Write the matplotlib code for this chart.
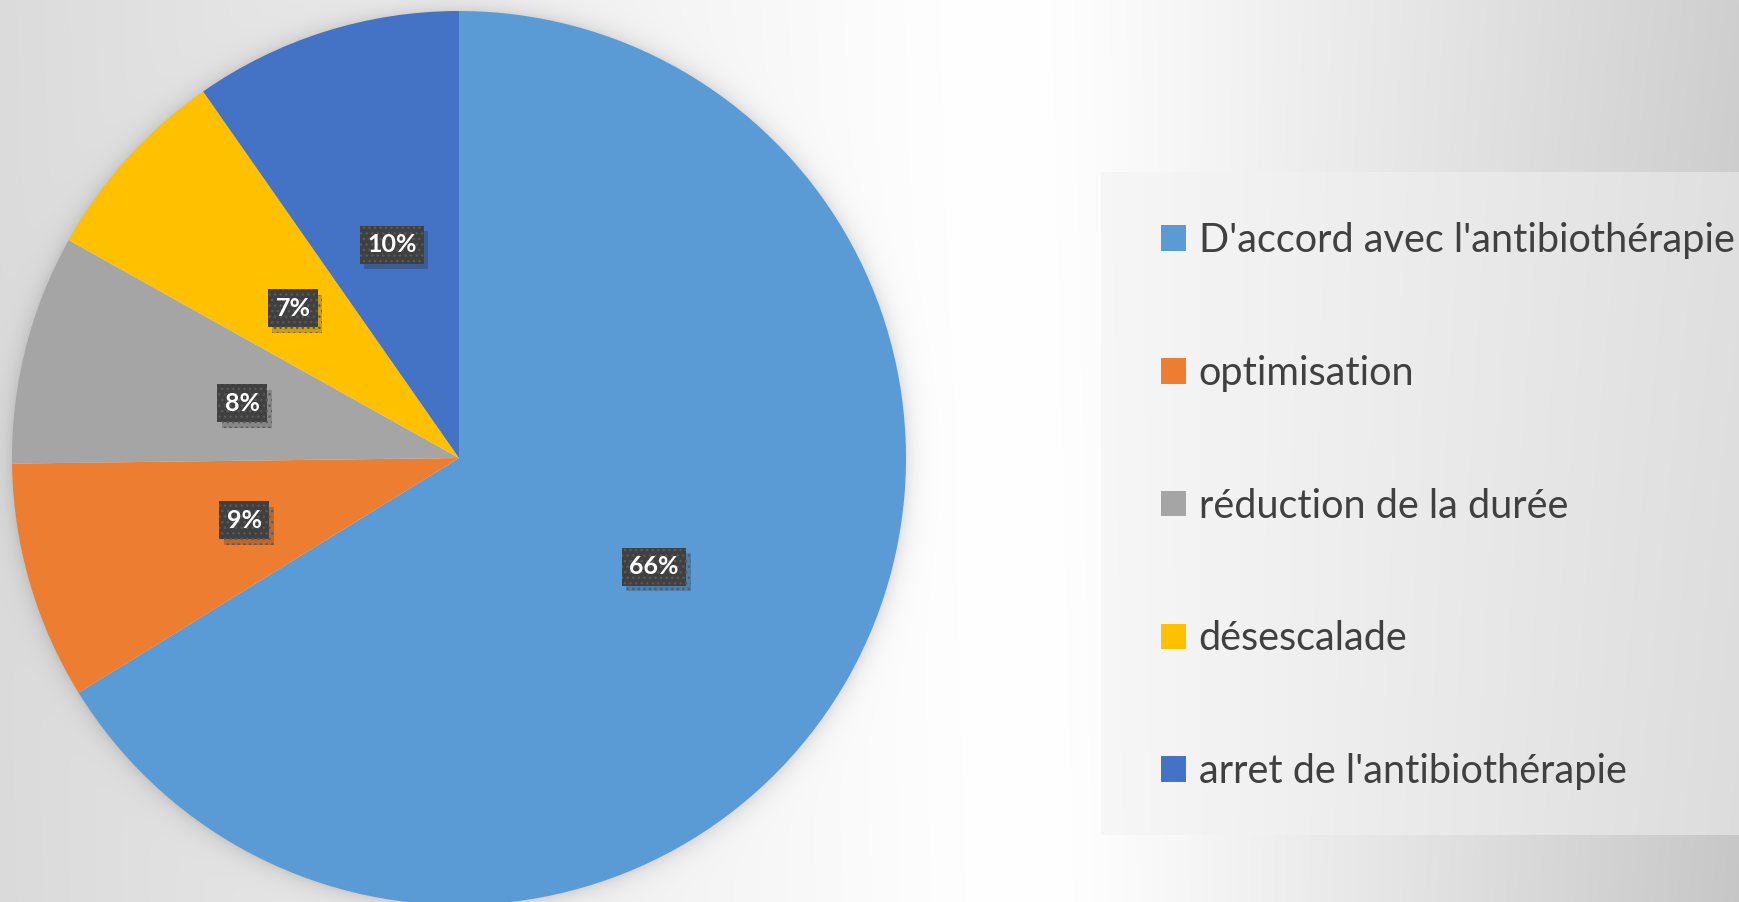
import numpy as np
import matplotlib
matplotlib.use('Agg')
import matplotlib.pyplot as plt
import matplotlib.patheffects as pe
from matplotlib.patches import Rectangle

categories = ["D'accord avec l'antibiothérapie", 'optimisation',
              'réduction de la durée', 'désescalade', "arret de l'antibiothérapie"]
values = [66.2, 8.6, 8.3, 7.2, 9.7]
pct_labels = ['66%', '9%', '8%', '7%', '10%']
colors = ['#5B9BD5', '#ED7D31', '#A5A5A5', '#FFC000', '#4472C4']

W, H = 1739, 902
DPI = 100
plt.rcParams['font.family'] = ['Lato', 'DejaVu Sans']

fig = plt.figure(figsize=(W / DPI, H / DPI), dpi=DPI)

# background: grey gradient with a light vertical band near x~1010, soft glow round the pie
yy, xx = np.mgrid[0:H, 0:W].astype(float)
d = xx - (1005 + 0.03 * yy)
soft = np.sqrt(d ** 2 + 70.0 ** 2) - 70.0
shade = np.where(d < 0, soft * 0.038, soft * (0.072 + yy * 0.000018))
bg = 255 - shade
pie_cx, pie_cy, pie_r = 459, 458, 447
rr = np.hypot(xx - pie_cx, yy - pie_cy)
glow = np.where(rr > pie_r - 2, 26 * np.exp(-(rr - pie_r) / 9.0), 0)
bg = np.clip(bg - glow, 0, 255) / 255.0
bg_ax = fig.add_axes([0, 0, 1, 1])
bg_ax.imshow(np.dstack([bg, bg, bg]), extent=[0, W, H, 0], aspect='auto')
bg_ax.set_xlim(0, W)
bg_ax.set_ylim(H, 0)
bg_ax.axis('off')

# legend panel
bg_ax.add_patch(Rectangle((1101, 172), W - 1101, 835 - 172, facecolor='#f2f2f2',
                          alpha=0.5, edgecolor='none'))

ax = fig.add_axes([(pie_cx - pie_r) / W, (H - pie_cy - pie_r) / H, 2 * pie_r / W, 2 * pie_r / H])
wedges, _ = ax.pie(values, colors=colors, startangle=90, counterclock=False,
                   radius=1, wedgeprops=dict(linewidth=0))
ax.set_xlim(-1, 1)
ax.set_ylim(-1, 1)
ax.set_aspect('equal')
ax.axis('off')

# percentage labels in dark dotted boxes, at half radius
total = sum(values)
start = 90.0
for v, lab in zip(values, pct_labels):
    ang = np.deg2rad(start - v / total * 360 / 2)
    start -= v / total * 360
    t = ax.text(0.5 * np.cos(ang), 0.5 * np.sin(ang), lab, ha='center', va='center',
                color='white', fontsize=18, fontweight='bold',
                bbox=dict(boxstyle='square,pad=0.3', facecolor='#404040',
                          edgecolor='#595959', linewidth=0, hatch='...'))
    t.get_bbox_patch().set_path_effects([
        pe.SimplePatchShadow(offset=(3, -4), shadow_rgbFace='black', alpha=0.18),
        pe.Normal()])

leg = fig.legend(wedges, categories, loc='upper left',
                 bbox_to_anchor=(1161 / W, 1 - 222 / H), frameon=False,
                 fontsize=28.5, handlelength=0.62, handleheight=0.62,
                 handletextpad=0.33, labelspacing=2.42, borderpad=0, borderaxespad=0)
for txt in leg.get_texts():
    txt.set_color('#404040')

fig.savefig('out.png', dpi=DPI)
